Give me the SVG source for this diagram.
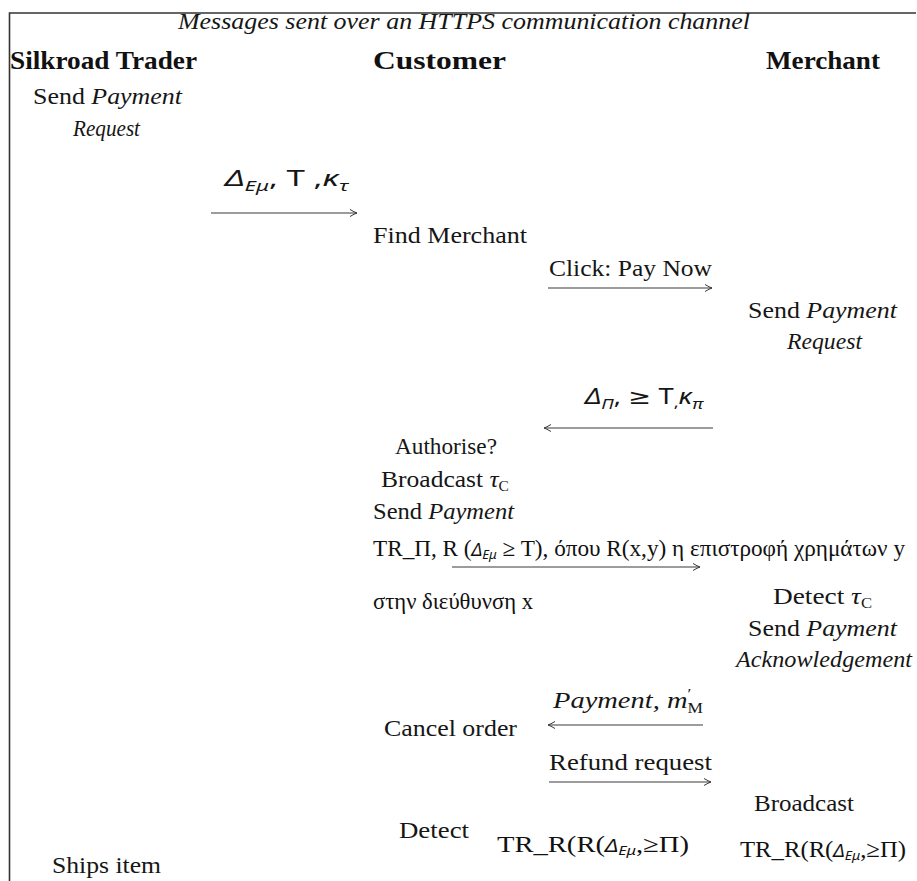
<svg xmlns="http://www.w3.org/2000/svg" width="917" height="881" viewBox="0 0 917 881">
  <style>
    .t { font-family: "Liberation Serif", "DejaVu Serif", serif; font-size: 23px; fill: #161616; }
    .cap { font-family: "Liberation Serif", "DejaVu Serif", serif; font-size: 23.5px; font-style: italic; fill: #161616; }
    .hd { font-family: "Liberation Serif", "DejaVu Serif", serif; font-size: 25px; font-weight: bold; fill: #111; }
    .i { font-style: italic; }
    .m { font-family: "Noto Sans", "DejaVu Sans", sans-serif; font-size: 21px; fill: #161616; }
    .sub { font-size: 14px; }
    .gr { font-family: "Liberation Serif", "DejaVu Serif", serif; font-size: 23px; fill: #111; }
    .d { font-family: "Noto Sans", "DejaVu Sans", sans-serif; font-style: italic; font-size: 18px; }
    .ds { font-family: "Noto Sans", "DejaVu Sans", sans-serif; font-style: italic; font-size: 13px; }
    .msg { fill: none; stroke: #3a3a3a; stroke-width: 1.1; marker-end: url(#head); }
    .frame { fill: none; stroke: #333; stroke-width: 1.6; }
  </style>
  <defs>
    <marker id="head" markerUnits="userSpaceOnUse" markerWidth="12" markerHeight="10" refX="0" refY="0" viewBox="-9 -5 10 10" orient="auto">
      <path d="M-7,-3.5 Q-2.5,-0.8 0,0 Q-2.5,0.8 -7,3.5" fill="none" stroke="#3a3a3a" stroke-width="1"/>
    </marker>
  </defs>
  <rect width="917" height="881" fill="#fff"/>
  <path class="frame" d="M9.5,881 V13 H916"/>

  <text id="caption" class="cap" x="178" y="29" textLength="572" lengthAdjust="spacingAndGlyphs">Messages sent over an HTTPS communication channel</text>

  <g id="trader">
    <text class="hd" x="10" y="69" textLength="187" lengthAdjust="spacingAndGlyphs">Silkroad Trader</text>
    <text class="t" x="33" y="104" textLength="149" lengthAdjust="spacingAndGlyphs">Send <tspan class="i">Payment</tspan></text>
    <text class="t i" x="73" y="136" textLength="67" lengthAdjust="spacingAndGlyphs">Request</text>
    <text class="t" x="52" y="873" textLength="109" lengthAdjust="spacingAndGlyphs">Ships item</text>
  </g>

  <g id="customer">
    <text class="hd" x="373" y="69" textLength="133" lengthAdjust="spacingAndGlyphs">Customer</text>
    <text class="t" x="373" y="243" textLength="154" lengthAdjust="spacingAndGlyphs">Find Merchant</text>
    <text class="t" x="395" y="454" textLength="102" lengthAdjust="spacingAndGlyphs">Authorise?</text>
    <text class="t" x="381" y="487" textLength="128" lengthAdjust="spacingAndGlyphs">Broadcast <tspan class="i">τ</tspan><tspan class="sub" dy="4">C</tspan></text>
    <text class="t" x="373" y="519" textLength="141" lengthAdjust="spacingAndGlyphs">Send <tspan class="i">Payment</tspan></text>
    <text class="gr" x="373" y="609" textLength="160" lengthAdjust="spacingAndGlyphs">στην διεύθυνση x</text>
    <text class="t" x="384" y="736" textLength="133" lengthAdjust="spacingAndGlyphs">Cancel order</text>
    <text class="t" x="399" y="838" textLength="70" lengthAdjust="spacingAndGlyphs">Detect</text>
  </g>

  <g id="merchant">
    <text class="hd" x="766" y="69" textLength="114" lengthAdjust="spacingAndGlyphs">Merchant</text>
    <text class="t" x="748" y="318" textLength="149" lengthAdjust="spacingAndGlyphs">Send <tspan class="i">Payment</tspan></text>
    <text class="t i" x="787" y="349" textLength="75" lengthAdjust="spacingAndGlyphs">Request</text>
    <text class="t" x="773" y="604" textLength="99" lengthAdjust="spacingAndGlyphs">Detect <tspan class="i">τ</tspan><tspan class="sub" dy="4">C</tspan></text>
    <text class="t" x="748" y="636" textLength="149" lengthAdjust="spacingAndGlyphs">Send <tspan class="i">Payment</tspan></text>
    <text class="t i" x="736" y="667" textLength="176" lengthAdjust="spacingAndGlyphs">Acknowledgement</text>
    <text class="t" x="754" y="811" textLength="100" lengthAdjust="spacingAndGlyphs">Broadcast</text>
  </g>

  <g id="connectors">
    <path class="msg" d="M211,213 H357"/>
    <path class="msg" d="M548,288 H712"/>
    <path class="msg" d="M713,428 H544"/>
    <path class="msg" d="M452,567 H700"/>
    <path class="msg" d="M703,725 H548"/>
    <path class="msg" d="M549,782 H711"/>
  </g>

  <g id="labels">
    <text class="m" x="225" y="186" textLength="123" lengthAdjust="spacingAndGlyphs"><tspan class="i">Δ</tspan><tspan class="sub i" dy="5">Εμ</tspan><tspan dy="-5">, Τ ,</tspan><tspan class="i">κ</tspan><tspan class="sub i" dy="5">τ</tspan></text>
    <text class="t" x="549" y="276" textLength="163" lengthAdjust="spacingAndGlyphs">Click: Pay Now</text>
    <text class="m" x="585" y="404" textLength="118" lengthAdjust="spacingAndGlyphs"><tspan class="i">Δ</tspan><tspan class="sub i" dy="5">Π</tspan><tspan dy="-5">, ≥ Τ</tspan><tspan class="sub" dy="3">,</tspan><tspan class="i" dy="-3">κ</tspan><tspan class="sub i" dy="5">π</tspan></text>
    <text class="gr" x="373" y="556" textLength="532" lengthAdjust="spacingAndGlyphs">TR_Π, R (<tspan class="d">Δ</tspan><tspan class="ds" dy="3">Εμ</tspan><tspan dy="-3"> ≥ Τ), όπου R(x,y) η επιστροφή χρημάτων y</tspan></text>
    <text class="t" x="553" y="708" textLength="150" lengthAdjust="spacingAndGlyphs"><tspan class="i">Payment, m</tspan><tspan class="sub" dy="-9">′</tspan><tspan class="sub" dx="-3" dy="14">M</tspan></text>
    <text class="t" x="549" y="770" textLength="163" lengthAdjust="spacingAndGlyphs">Refund request</text>
    <text class="gr" x="497" y="852" textLength="192" lengthAdjust="spacingAndGlyphs">TR_R(R(<tspan class="d">Δ</tspan><tspan class="ds" dy="3">Εμ</tspan><tspan dy="-3">,</tspan><tspan>≥Π)</tspan></text>
    <text class="gr" x="740" y="857" textLength="166" lengthAdjust="spacingAndGlyphs">TR_R(R(<tspan class="d">Δ</tspan><tspan class="ds" dy="3">Εμ</tspan><tspan dy="-3">,</tspan><tspan>≥Π)</tspan></text>
  </g>
</svg>
